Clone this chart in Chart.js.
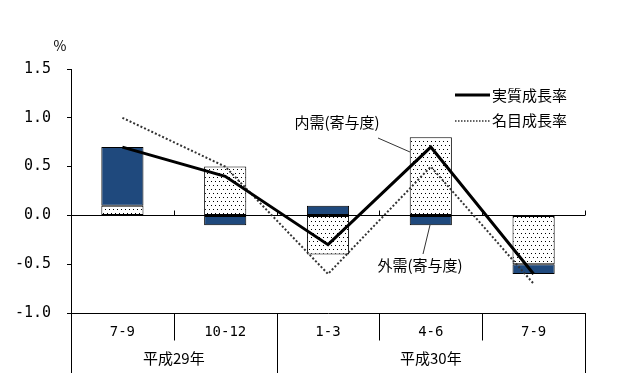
<!DOCTYPE html>
<html><head><meta charset="utf-8">
<script src="https://cdn.jsdelivr.net/npm/chart.js@4/dist/chart.umd.min.js"></script>
<style>html,body{margin:0;padding:0;background:#fff}#wrap{width:634px;height:373px}</style>
</head><body><div id="wrap"><canvas id="c" width="634" height="373"></canvas></div>
<script>
const categories = ['7-9', '10-12', '1-3', '4-6', '7-9'];
const yearLabels = ['平成29年', '平成30年'];
const yearSpans = [[0, 1], [2, 4]];
const domestic = [0.1, 0.5, -0.4, 0.8, -0.5];
const external = [0.6, -0.1, 0.1, -0.1, -0.1];
const realGrowth = [0.7, 0.4, -0.3, 0.7, -0.6];
const nominalGrowth = [1.0, 0.5, -0.6, 0.5, -0.7];
const yTicks = [1.5, 1.0, 0.5, 0.0, -0.5, -1.0];
const seriesNames = ['実質成長率', '名目成長率', '内需(寄与度)', '外需(寄与度)'];

const NUM_FONT = '"DejaVu Sans Mono", monospace';
const JP_FONT = '"Noto Sans CJK JP", sans-serif';
const BLUE = '#1f497d';

// dotted pattern
const pc = document.createElement('canvas');
pc.width = 8; pc.height = 8;
const pctx = pc.getContext('2d');
pctx.fillStyle = '#fff'; pctx.fillRect(0, 0, 8, 8);
pctx.fillStyle = '#000';
[[1, 1], [5, 1], [3, 5], [7, 5]].forEach(p => pctx.fillRect(p[0], p[1], 1, 1));
const dotPattern = document.getElementById('c').getContext('2d').createPattern(pc, 'repeat');

const overlay = {
  id: 'overlay',
  afterDraw(chart) {
    const ctx = chart.ctx;
    const x = chart.scales.x, y = chart.scales.y;
    const a = chart.chartArea;
    const n = categories.length;
    const bound = i => {
      if (i <= 0) return a.left;
      if (i >= n) return a.right;
      return (x.getPixelForValue(i - 1) + x.getPixelForValue(i)) / 2;
    };
    ctx.save();
    ctx.strokeStyle = '#000';
    ctx.lineWidth = 1;
    const y0 = Math.round(y.getPixelForValue(0)) + 0.5;
    for (let i = 1; i <= n; i++) {
      const bx = Math.round(bound(i)) + 0.5;
      ctx.beginPath(); ctx.moveTo(bx, y0); ctx.lineTo(bx, y0 - 5); ctx.stroke();
    }
    const yb = Math.round(a.bottom) + 0.5;
    const yearStarts = yearSpans.map(s => s[0]);
    for (let i = 0; i <= n; i++) {
      const bx = Math.round(bound(i)) + 0.5;
      const full = i === 0 || i === n || yearStarts.includes(i);
      ctx.beginPath(); ctx.moveTo(bx, yb); ctx.lineTo(bx, full ? chart.height : yb + 27); ctx.stroke();
    }
    ctx.fillStyle = '#000';
    ctx.font = '15px ' + JP_FONT;
    ctx.textAlign = 'center'; ctx.textBaseline = 'middle';
    yearSpans.forEach((s, k) => {
      const cx = (bound(s[0]) + bound(s[1] + 1)) / 2;
      ctx.fillText(yearLabels[k], cx, 358);
    });
    ctx.font = '14px ' + JP_FONT;
    ctx.fillText('%', 60, 46);
    ctx.textAlign = 'left';
    ctx.font = '15px ' + JP_FONT;
    ctx.beginPath(); ctx.lineWidth = 3; ctx.setLineDash([]);
    ctx.moveTo(455, 95); ctx.lineTo(490, 95); ctx.stroke();
    ctx.fillText(seriesNames[0], 492, 95);
    ctx.beginPath(); ctx.lineWidth = 1.5; ctx.setLineDash([1.5, 1.5]); ctx.strokeStyle = '#333';
    ctx.moveTo(455, 121); ctx.lineTo(490, 121); ctx.stroke();
    ctx.fillText(seriesNames[1], 492, 120);
    ctx.setLineDash([]); ctx.lineWidth = 1; ctx.strokeStyle = '#333';
    ctx.textAlign = 'center';
    ctx.fillText(seriesNames[2], 337, 122);
    ctx.beginPath(); ctx.moveTo(378, 138); ctx.lineTo(410, 152); ctx.stroke();
    ctx.fillText(seriesNames[3], 420, 265);
    ctx.beginPath(); ctx.moveTo(430, 225); ctx.lineTo(423, 254); ctx.stroke();
    ctx.restore();
  }
};

new Chart(document.getElementById('c'), {
  data: {
    labels: categories,
    datasets: [
      { type: 'line', label: seriesNames[0], data: realGrowth, borderColor: '#000', borderWidth: 3,
        pointRadius: 0, tension: 0, stack: 'real', order: 0, fill: false },
      { type: 'line', label: seriesNames[1], data: nominalGrowth, borderColor: '#333', borderWidth: 2,
        borderDash: [2, 2], pointRadius: 0, tension: 0, stack: 'nominal', order: 1, fill: false },
      { type: 'bar', label: seriesNames[2], data: domestic, backgroundColor: dotPattern, borderColor: '#000',
        borderWidth: 1, borderSkipped: false, stack: 'bars', order: 2 },
      { type: 'bar', label: seriesNames[3], data: external, backgroundColor: BLUE, borderColor: '#000',
        borderWidth: 1, borderSkipped: false, stack: 'bars', order: 2 }
    ]
  },
  options: {
    responsive: false,
    animation: false,
    devicePixelRatio: 1,
    layout: { padding: { top: 69, right: 49, left: 0, bottom: 0 } },
    plugins: { legend: { display: false }, tooltip: { enabled: false } },
    datasets: { bar: { barPercentage: 1, categoryPercentage: 0.41 } },
    scales: {
      x: {
        stacked: true,
        offset: true,
        grid: { display: false },
        border: { display: true, color: '#000', width: 1 },
        ticks: { color: '#000', font: { family: NUM_FONT, size: 14 }, padding: 3, maxRotation: 0, autoSkip: false },
        afterFit(s) { s.height = 60; }
      },
      y: {
        stacked: true,
        min: -1.0, max: 1.5,
        afterBuildTicks(s) { s.ticks = yTicks.map(v => ({ value: v })); },
        grid: {
          drawOnChartArea: true,
          color: c => (c.tick && c.tick.value === 0 ? '#000' : 'rgba(0,0,0,0)'),
          tickColor: '#000', tickLength: 4, lineWidth: 1
        },
        border: { display: true, color: '#000', width: 1 },
        ticks: { color: '#000', font: { family: NUM_FONT, size: 15 }, padding: 16,
          callback: v => Number(v).toFixed(1) },
        afterFit(s) { s.width = 71; }
      }
    }
  },
  plugins: [overlay]
});
</script>
</body></html>
